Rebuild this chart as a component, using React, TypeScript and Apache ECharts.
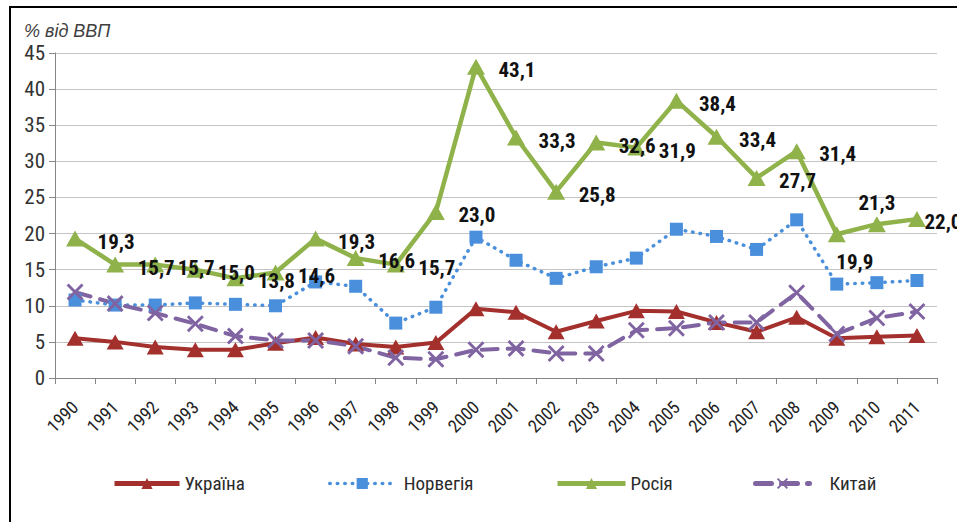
import React, { useEffect, useRef } from "react";
import * as echarts from "echarts";

const years = ["1990","1991","1992","1993","1994","1995","1996","1997","1998","1999","2000","2001","2002","2003","2004","2005","2006","2007","2008","2009","2010","2011"];
const ukraine = [5.5,5.0,4.3,3.9,3.9,4.8,5.6,4.7,4.3,4.9,9.6,9.1,6.4,7.9,9.3,9.2,7.7,6.4,8.4,5.5,5.7,5.9];
const norway = [10.8,10.1,10.1,10.4,10.2,10.0,13.3,12.7,7.6,9.8,19.5,16.3,13.8,15.4,16.6,20.6,19.6,17.8,21.9,13.0,13.2,13.5];
const russia = [19.3,15.7,15.7,15.0,13.8,14.6,19.3,16.6,15.7,23.0,43.1,33.3,25.8,32.6,31.9,38.4,33.4,27.7,31.4,19.9,21.3,22.0];
const china = [11.9,10.3,9.0,7.5,5.8,5.2,5.2,4.4,2.8,2.6,3.9,4.1,3.4,3.4,6.6,6.9,7.7,7.7,11.8,6.1,8.3,9.2];
const seriesNames = ["Україна", "Норвегія", "Росія", "Китай"];
const yTitle = "% від ВВП";

const NARROW = "'Liberation Sans Narrow', 'Arial Narrow', 'Roboto Condensed', 'Liberation Sans', sans-serif";
const C_UA = "#A3302C";
const C_NO = "#4A8FDB";
const C_RU = "#8FB24A";
const C_CN = "#8064A2";
const X_PATH = "path://M0,1.2L1.2,0L5,3.8L8.8,0L10,1.2L6.2,5L10,8.8L8.8,10L5,6.2L1.2,10L0,8.8L3.8,5Z";

export default function App() {
  const ref = useRef<HTMLDivElement>(null);
  useEffect(() => {
    if (!ref.current) return;
    const chart = echarts.init(ref.current, undefined, { renderer: "svg" });
    const specialOffsets: Record<number, number[]> = { 19: [18, 28], 20: [0, -21], 21: [26, 3] };
    const russiaData = russia.map((v, i) => ({
      value: v,
      label: { offset: specialOffsets[i] || [41, 3] },
    }));
    const legendBase = {
      top: 469,
      itemWidth: 65,
      itemHeight: 14,
      itemGap: 6,
      lineStyle: { width: 5 },
      textStyle: { fontSize: 19, fontFamily: NARROW, color: "#2a2a2a", fontWeight: "normal" },
    };
    chart.setOption({
      animation: false,
      backgroundColor: "#fff",
      title: {
        text: yTitle,
        left: 19,
        top: 17,
        textStyle: { fontStyle: "italic", fontWeight: "normal", fontSize: 18, color: "#404040", fontFamily: "'Liberation Sans', Arial, sans-serif" },
      },
      graphic: [
        { type: "rect", shape: { x: 10, y: 7, width: 1000, height: 600 }, style: { fill: "none", stroke: "#000", lineWidth: 2 }, silent: true },
      ],
      legend: [
        { ...legendBase, left: 107, data: [seriesNames[0]] },
        { ...legendBase, left: 323, data: [seriesNames[1]], lineStyle: { width: 3.5 }, textStyle: { ...legendBase.textStyle, padding: [0, 0, 0, 4] } },
        { ...legendBase, left: 550, itemWidth: 68, data: [seriesNames[2]] },
        { ...legendBase, left: 748, itemWidth: 54, data: [seriesNames[3]], textStyle: { ...legendBase.textStyle, padding: [0, 0, 0, 15] } },
      ],
      grid: { left: 55, right: 20, top: 53, bottom: 144 },
      xAxis: {
        type: "category",
        data: years,
        boundaryGap: true,
        axisLine: { lineStyle: { color: "#868686", width: 1 } },
        axisTick: { show: true, length: 6, lineStyle: { color: "#868686" } },
        axisLabel: { rotate: 45, fontSize: 18, fontFamily: NARROW, color: "#222", margin: 26, interval: 0 },
      },
      yAxis: {
        type: "value",
        min: 0,
        max: 45,
        interval: 5,
        axisLine: { show: true, lineStyle: { color: "#868686", width: 1 } },
        axisTick: { show: true, length: 6, lineStyle: { color: "#868686" } },
        axisLabel: { fontSize: 21, fontFamily: NARROW, color: "#333", margin: 10 },
        splitLine: { lineStyle: { color: "#C4C4C4", width: 1 } },
      },
      series: [
        {
          name: seriesNames[0],
          type: "line",
          data: ukraine,
          symbol: "triangle",
          symbolSize: [17, 15],
          lineStyle: { color: C_UA, width: 4 },
          itemStyle: { color: C_UA },
        },
        {
          name: seriesNames[1],
          type: "line",
          data: norway,
          symbol: "rect",
          symbolSize: 13,
          lineStyle: { color: C_NO, width: 3.5, type: [0.5, 7], cap: "round" },
          itemStyle: { color: C_NO },
        },
        {
          name: seriesNames[2],
          type: "line",
          data: russiaData,
          symbol: "triangle",
          symbolSize: [18, 16],
          lineStyle: { color: C_RU, width: 4.5 },
          itemStyle: { color: C_RU },
          label: {
            show: true,
            position: "inside",
            color: "#111",
            textBorderWidth: 0,
            fontSize: 21,
            fontWeight: "bold",
            fontFamily: NARROW,
            formatter: (p: any) => p.value.toFixed(1).replace(".", ","),
          },
        },
        {
          name: seriesNames[3],
          type: "line",
          data: china,
          symbol: X_PATH,
          symbolSize: 17,
          lineStyle: { color: C_CN, width: 4, type: [16, 10], cap: "round" },
          itemStyle: { color: C_CN },
        },
      ],
    });
    return () => chart.dispose();
  }, []);
  return <div ref={ref} style={{ position: "fixed", left: 0, top: 0, width: 957, height: 522 }} />;
}
